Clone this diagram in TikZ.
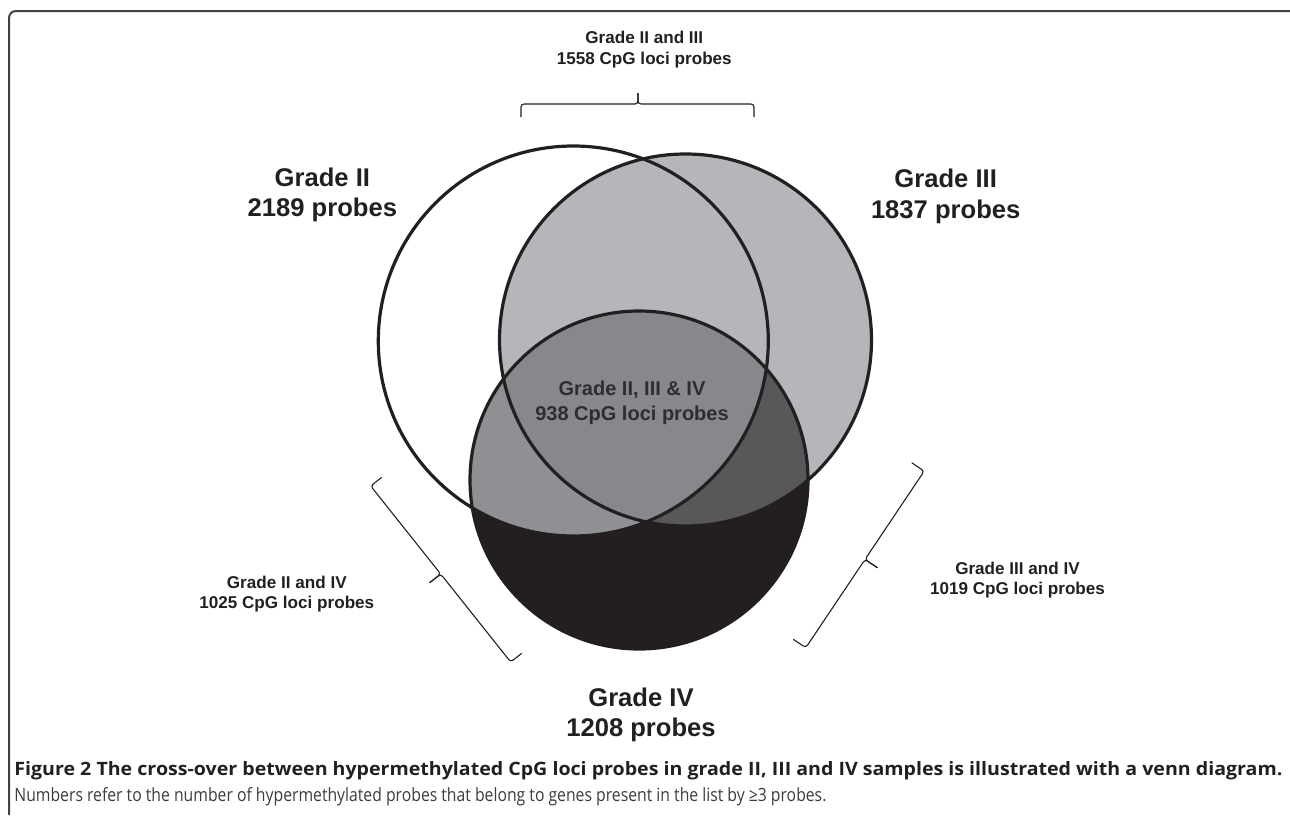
\documentclass[tikz,border=0pt]{standalone}
\usepackage{fontspec}
\setmainfont{Liberation Sans}
\newfontfamily\capfont{Open Sans}
\usetikzlibrary{calc}
\definecolor{ink}{HTML}{231F20}
\definecolor{cthree}{HTML}{B5B6B9}
\definecolor{ctwofour}{HTML}{8F9093}
\definecolor{cthreefour}{HTML}{58585A}
\definecolor{call}{HTML}{87888B}
\definecolor{cfour}{HTML}{231F20}
\definecolor{centtext}{HTML}{2E2E30}
\definecolor{captwo}{HTML}{3C3C3C}
\tikzset{
  biglbl/.style={font=\fontsize{12.8}{15}\selectfont\bfseries, text=ink, inner sep=0, anchor=base},
  smalllbl/.style={font=\fontsize{8.55}{10}\selectfont\bfseries, text=ink, inner sep=0, anchor=base},
  centlbl/.style={font=\fontsize{10}{12}\selectfont\bfseries, text=centtext, inner sep=0, anchor=base},
  ring/.style={draw=ink, line width=1.6pt},
  bracket/.style={draw=ink, line width=0.55pt, rounded corners=1.5pt},
  frameline/.style={draw=ink!85, line width=1pt, rounded corners=3.5pt},
}
\begin{document}
\begin{tikzpicture}[x=0.5pt,y=-0.5pt]
\useasboundingbox (0,0) rectangle (1290,815);
% centres
\coordinate (II) at (573.3,341);
\coordinate (III) at (685.5,340);
\coordinate (IV) at (639,480);
% frame
\coordinate (fb) at (9,815);
\coordinate (fc) at (9,11);
\coordinate (fr) at (1290,11);
\draw[frameline] (fb) -- (fc) -- (fr);
% fills
\fill[cthree] (III) circle (186);
\fill[cfour] (IV) circle (169);
\begin{scope}
  \clip (IV) circle (169);
  \fill[ctwofour] (II) circle (195);
  \fill[cthreefour] (III) circle (186);
  \clip (III) circle (186);
  \fill[call] (II) circle (195);
\end{scope}
% outlines
\draw[ring] (II) circle (195);
\draw[ring] (III) circle (186);
\draw[ring] (IV) circle (169);
% top bracket
\coordinate (tl) at (521,117);
\coordinate (tm) at (638,104);
\coordinate (tt) at (638,93);
\coordinate (tr) at (754,117);
\draw[bracket] (tl) |- (tm) -- (tt);
\draw[bracket] (tt) -- (tm) -| (tr);
% left bracket
\coordinate (la) at (381.7,477.3);
\coordinate (lc) at (370.7,486.0);
\coordinate (lm) at (440.7,574.0);
\coordinate (lt) at (429.7,582.7);
\coordinate (ld) at (510.7,662.0);
\coordinate (lb) at (521.7,653.3);
\draw[bracket] (la) -- (lc) -- (lm) -- (lt);
\draw[bracket] (lt) -- (lm) -- (ld) -- (lb);
% right bracket
\coordinate (ra) at (911.7,462.7);
\coordinate (rc) at (924.2,471.1);
\coordinate (rm) at (865.0,559.4);
\coordinate (rt) at (877.5,567.8);
\coordinate (rd) at (805.8,647.7);
\coordinate (rb) at (793.3,639.3);
\draw[bracket] (ra) -- (rc) -- (rm) -- (rt);
\draw[bracket] (rt) -- (rm) -- (rd) -- (rb);
% labels
\node[biglbl] (g2a) at (322.4,186) {Grade II};
\node[biglbl] (g2b) at (322.4,216.8) {2189 probes};
\node[biglbl] (g3a) at (945.7,187.4) {Grade III};
\node[biglbl] (g3b) at (945.7,218.2) {1837 probes};
\node[biglbl] (g4a) at (641,706) {Grade IV};
\node[biglbl] (g4b) at (641,736.8) {1208 probes};
\node[smalllbl] (t23a) at (644.3,43.3) {Grade II and III};
\node[smalllbl] (t23b) at (644.3,64) {1558 CpG loci probes};
\node[smalllbl] (t24a) at (286.8,588.3) {Grade II and IV};
\node[smalllbl] (t24b) at (286.8,608.3) {1025 CpG loci probes};
\node[smalllbl] (t34a) at (1017.5,574) {Grade III and IV};
\node[smalllbl] (t34b) at (1017.5,594) {1019 CpG loci probes};
\node[centlbl] (ca) at (632,395) {Grade II, III \& IV};
\node[centlbl] (cb) at (632,420) {938 CpG loci probes};
% caption
\node[inner sep=0, anchor=base west, text=ink] (cap1) at (14,775)
  {\resizebox{634pt}{7pt}{\capfont\bfseries Figure 2 The cross-over between hypermethylated CpG loci probes in grade II, III and IV samples is illustrated with a venn diagram.}};
\node[inner sep=0, anchor=base west, text=captwo] (cap2) at (14,801)
  {\resizebox{406pt}{7pt}{\capfont Numbers refer to the number of hypermethylated probes that belong to genes present in the list by ≥3 probes.}};
\end{tikzpicture}
\end{document}
